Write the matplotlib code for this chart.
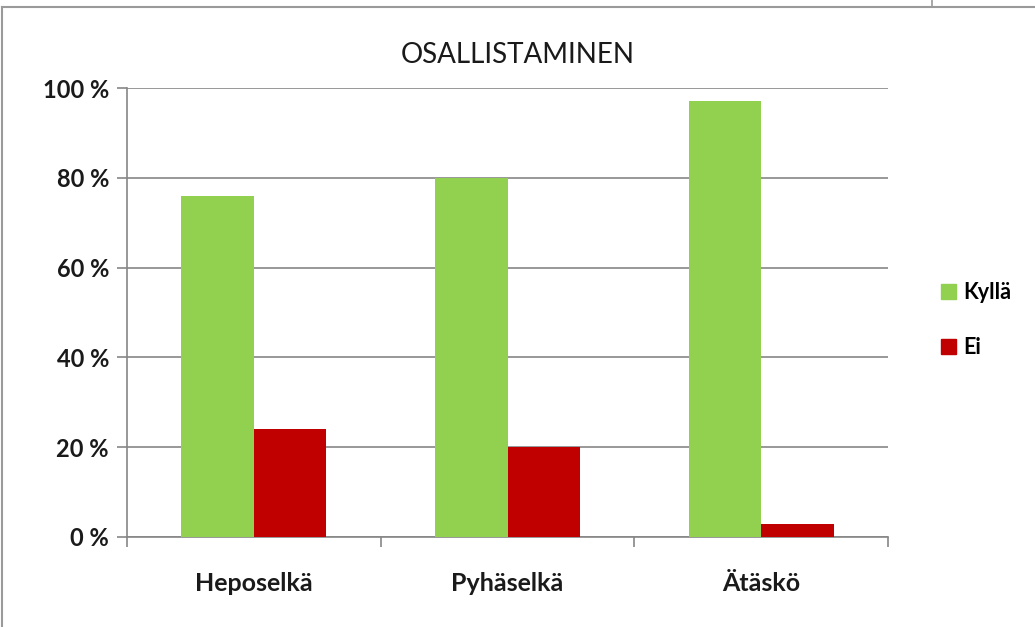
import matplotlib
matplotlib.use("Agg")
import matplotlib.pyplot as plt
from matplotlib.lines import Line2D
from matplotlib.patches import Patch
import numpy as np

categories = ["Heposelkä", "Pyhäselkä", "Ätäskö"]
kylla = [76, 80, 97]
ei = [24, 20, 3]
series_names = ["Kyllä", "Ei"]
yticks = [0, 20, 40, 60, 80, 100]
ytick_labels = ["0 %", "20 %", "40 %", "60 %", "80 %", "100 %"]
title = "OSALLISTAMINEN"

plt.rcParams['font.family'] = ['Lato', 'DejaVu Sans']

W, H = 1035, 627
fig = plt.figure(figsize=(W / 100, H / 100), dpi=100)
fig.patch.set_facecolor("white")

ax = fig.add_axes([127 / W, 1 - 537 / H, (888 - 127) / W, (537 - 88) / H])

x = np.arange(len(categories))
bw = 1 / 3.5
green = "#92D050"
red = "#C00000"
ax.bar(x - bw / 2, kylla, width=bw, color=green, zorder=3, label=series_names[0])
ax.bar(x + bw / 2, ei, width=bw, color=red, zorder=3, label=series_names[1])

ax.set_xlim(-0.5, len(categories) - 0.5)
ax.set_ylim(0, 100)
ax.set_yticks(yticks)
ax.set_yticklabels(ytick_labels, fontsize=17, fontweight="bold", color="#1a1a1a")
ax.set_xticks(x)
ax.set_xticklabels(categories, fontsize=18, fontweight="bold", color="#1a1a1a")
ax.set_xticks(np.arange(-0.5, len(categories), 1.0), minor=True)
ax.tick_params(axis="x", which="major", length=0, pad=25)
ax.tick_params(axis="x", which="minor", length=7, color="#868686", width=1.2)
ax.tick_params(axis="y", length=7, color="#868686", width=1.2, pad=6)

ax.grid(axis="y", color="#868686", linewidth=1.2, zorder=0)
for s in ["top", "right"]:
    ax.spines[s].set_visible(False)
for s in ["left", "bottom"]:
    ax.spines[s].set_color("#868686")
    ax.spines[s].set_linewidth(1.2)

fig.text(518 / W, 1 - 55 / H, title, ha="center", va="center", fontsize=20, color="#1a1a1a")

handles = [Patch(color=green), Patch(color=red)]
fig.legend(handles, series_names, loc="center left", bbox_to_anchor=(926 / W, 1 - 320 / H),
           frameon=False, handlelength=0.7, handleheight=0.7,
           handletextpad=0.35, labelspacing=1.55, borderaxespad=0.3,
           prop={"weight": "bold", "size": 15.5})

# outer chart border (top and left visible)
fig.add_artist(Line2D([2 / W, 1], [1 - 7 / H, 1 - 7 / H], color="#9a9a9a", linewidth=1.5))
fig.add_artist(Line2D([2 / W, 2 / W], [0, 1 - 7 / H], color="#9a9a9a", linewidth=1.5))
fig.add_artist(Line2D([932 / W, 932 / W], [1 - 7 / H, 1], color="#9a9a9a", linewidth=1.2))

fig.savefig("out.png", dpi=100)
